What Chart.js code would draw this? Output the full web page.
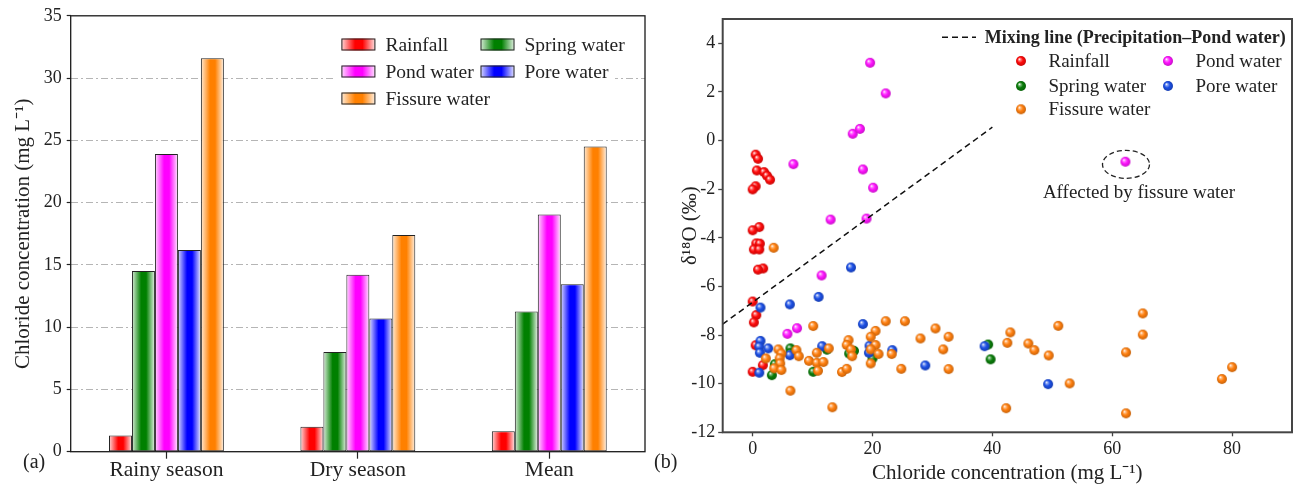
<!DOCTYPE html>
<html>
<head>
<meta charset="utf-8">
<script src="https://cdn.jsdelivr.net/npm/chart.js@4.4.1/dist/chart.umd.min.js"></script>
<style>
html, body { margin: 0; padding: 0; background: #fff; }
#wrap { position: relative; width: 1298px; height: 485px; }
#barChart { position: absolute; left: 0; top: 0; }
#isoChart { position: absolute; left: 648px; top: 0; }
</style>
</head>
<body>
<div id="wrap">
  <canvas id="barChart" width="648" height="485"></canvas>
  <canvas id="isoChart" width="650" height="485"></canvas>
</div>
<script>
var SERIF = "'Liberation Serif', 'Times New Roman', serif";

//PANEL (a) DATA - chloride, mg/L//
var seasons = ['Rainy season', 'Dry season', 'Mean'];
var rainfallCl = [1.3, 2.0, 1.65];
var springCl = [14.5, 8.0, 11.25];
var pondCl = [23.9, 14.2, 19.05];
var poreCl = [16.2, 10.7, 13.45];
var fissureCl = [31.6, 17.4, 24.5];
var clTicks = [0, 5, 10, 15, 20, 25, 30, 35];

//PANEL (b) DATA - [chloride mg/L, d18O permil]//
var rainfallPts = [[0.5,-0.58],[0.9,-0.75],[0.7,-1.23],[1.9,-1.30],[2.4,-1.45],[2.9,-1.61],[0.5,-1.88],[0.0,-2.01],
  [1.1,-3.56],[0.0,-3.69],[0.6,-4.23],[1.2,-4.24],[0.2,-4.48],[1.1,-4.48],[1.75,-5.26],[0.9,-5.31],
  [0.0,-6.62],[0.6,-7.18],[0.2,-7.48],[0.5,-8.42],[1.7,-9.24],[0.0,-9.51]];
var springPts = [[3.2,-9.65],[3.7,-9.2],[6.3,-8.55],[6.3,-8.75],[10.1,-9.51],[12.4,-8.6],[16.1,-8.76],[16.9,-8.65],
  [20.0,-8.96],[39.3,-8.39],[39.7,-9.0]];
var pondPts = [[19.6,3.2],[22.2,1.94],[16.7,0.28],[17.9,0.48],[6.8,-0.97],[18.4,-1.19],[20.1,-1.94],[13.0,-3.25],
  [19.0,-3.21],[62.2,-0.87],[11.5,-5.55],[5.8,-7.95],[7.4,-7.72]];
var porePts = [[16.4,-5.22],[11.0,-6.43],[6.2,-6.74],[1.3,-6.87],[18.4,-7.55],[1.3,-8.24],[1.1,-8.48],[2.6,-8.55],
  [1.2,-8.73],[11.6,-8.46],[6.2,-8.83],[19.5,-8.44],[19.4,-8.73],[23.3,-8.62],[28.8,-9.25],[38.7,-8.46],
  [1.1,-9.55],[49.3,-10.02]];
var fissurePts = [[3.5,-4.41],[10.1,-7.63],[22.2,-7.43],[25.4,-7.43],[20.5,-7.83],[19.7,-8.07],[28.0,-8.14],[30.5,-7.73],
  [32.7,-8.07],[31.8,-8.59],[32.7,-9.40],[43.0,-7.89],[42.5,-8.32],[46.0,-8.35],[47.0,-8.62],[42.3,-11.01],
  [13.3,-10.97],[6.3,-10.29],[4.3,-8.59],[4.8,-8.76],[4.5,-8.96],[2.2,-8.96],[7.3,-8.62],[7.7,-8.87],
  [4.6,-9.17],[3.6,-9.37],[4.8,-9.44],[10.7,-8.73],[9.4,-9.06],[10.7,-9.14],[11.8,-9.11],[10.9,-9.47],
  [12.7,-8.55],[16.0,-8.21],[15.7,-8.41],[16.4,-8.59],[16.6,-8.87],[14.9,-9.52],[15.7,-9.39],[20.5,-8.41],
  [19.7,-8.59],[21.0,-8.78],[19.7,-9.17],[23.2,-8.78],[24.8,-9.39],[65.1,-7.11],[65.1,-7.98],[51.0,-7.62],
  [49.4,-8.84],[62.3,-8.71],[80.0,-9.32],[78.3,-9.81],[52.9,-9.99],[62.3,-11.22]];
var mixingLine = [[-5, -7.55], [40, 0.55]];
var circledPt = [62.3, -0.98];
var xTickVals = [0, 20, 40, 60, 80];
var yTickVals = [-12, -10, -8, -6, -4, -2, 0, 2, 4];

var waterNames = ['Rainfall', 'Spring water', 'Pond water', 'Pore water', 'Fissure water'];
var barColors = ['#ff0000', '#008000', '#ff00ff', '#0000ff', '#ff8000'];
var dotColors = ['#ff0a0a', '#0a7d0a', '#ff14ff', '#1c4fe4', '#ff7f0e'];

function rgb(hex) {
  return [parseInt(hex.slice(1, 3), 16), parseInt(hex.slice(3, 5), 16), parseInt(hex.slice(5, 7), 16)];
}
// t>0 towards white, t<0 towards black
function shade(hex, t) {
  var c = rgb(hex);
  var out = c.map(function(v) { return Math.round(t > 0 ? v + (255 - v) * t : v * (1 + t)); });
  return 'rgb(' + out.join(',') + ')';
}
function barFill(ctx, x0, x1, color) {
  var g = ctx.createLinearGradient(x0, 0, x1, 0);
  g.addColorStop(0, shade(color, 0.85));
  g.addColorStop(0.4, color);
  g.addColorStop(0.62, color);
  g.addColorStop(1, shade(color, 0.9));
  return g;
}
// little shaded ball used as point style
function sphere(color) {
  var cv = document.createElement('canvas');
  cv.width = 12; cv.height = 12;
  var c = cv.getContext('2d');
  var g = c.createRadialGradient(4.3, 4.1, 0.2, 6, 6, 5.4);
  g.addColorStop(0, '#ffffff');
  g.addColorStop(0.2, shade(color, 0.45));
  g.addColorStop(0.5, color);
  g.addColorStop(1, shade(color, -0.25));
  c.fillStyle = g;
  c.beginPath(); c.arc(6, 6, 5, 0, Math.PI * 2); c.fill();
  return cv;
}
var balls = dotColors.map(sphere);

function toXY(arr) { return arr.map(function(p) { return {x: p[0], y: p[1]}; }); }

//BAR CHART (a)//
var barValues = [rainfallCl, springCl, pondCl, poreCl, fissureCl];

var barShade = {
  id: 'barShade',
  beforeDatasetsDraw: function(chart) {
    chart.data.datasets.forEach(function(ds, i) {
      chart.getDatasetMeta(i).data.forEach(function(bar) {
        bar.options.backgroundColor = barFill(chart.ctx, bar.x - bar.width / 2, bar.x + bar.width / 2, barColors[i]);
      });
    });
  },
  afterDraw: function(chart) {
    var c = chart.ctx, a = chart.chartArea;
    c.save();
    // legend with white box
    c.fillStyle = '#fff';
    c.fillRect(334, 30, 281, 82);
    var spots = [[341.4, 44.5], [480.5, 44.5], [341.4, 71.5], [480.5, 71.5], [341.4, 98.5]];
    c.font = '19.5px ' + SERIF;
    c.textBaseline = 'middle';
    spots.forEach(function(s, i) {
      c.fillStyle = barFill(c, s[0], s[0] + 34, barColors[i]);
      c.fillRect(s[0], s[1] - 6, 34, 12);
      c.strokeStyle = '#222'; c.lineWidth = 1;
      c.strokeRect(s[0] + 0.5, s[1] - 5.5, 33, 11);
      c.fillStyle = '#222';
      c.fillText(waterNames[i], s[0] + 44, s[1] + 1);
    });
    // frame
    c.strokeStyle = '#1a1a1a'; c.lineWidth = 1.3;
    c.strokeRect(a.left, a.top, a.right - a.left, a.bottom - a.top);
    c.font = '20px ' + SERIF;
    c.fillStyle = '#222';
    c.textBaseline = 'alphabetic';
    c.fillText('(a)', 23, 468);
    c.restore();
  }
};

var barChart = new Chart(document.getElementById('barChart'), {
  type: 'bar',
  data: {
    labels: seasons,
    datasets: barValues.map(function(vals, i) {
      return {
        label: waterNames[i],
        data: vals,
        backgroundColor: function(ctx) { return barColors[ctx.datasetIndex]; },
        borderColor: '#222',
        borderWidth: 1,
        borderSkipped: false,
        barPercentage: 1,
        categoryPercentage: 0.6
      };
    })
  },
  options: {
    responsive: false,
    animation: false,
    layout: { padding: { top: 15.7, right: 3, left: 0, bottom: 0 } },
    plugins: { legend: { display: false }, tooltip: { enabled: false } },
    scales: {
      x: {
        afterFit: function(s) { s.height = 33.3; },
        grid: { offset: false, drawOnChartArea: false, drawTicks: true, tickLength: 7, tickColor: '#222', tickWidth: 1.2 },
        border: { display: false },
        ticks: { font: { family: SERIF, size: 21.5, lineHeight: 1 }, color: '#222', padding: 1, maxRotation: 0 }
      },
      y: {
        min: 0, max: 35,
        afterBuildTicks: function(s) { s.ticks = clTicks.map(function(v) { return {value: v}; }); },
        afterFit: function(s) { s.width = 70.7; },
        grid: {
          color: function(ctx) { return (ctx.tick && (ctx.tick.value === 0 || ctx.tick.value === 35)) ? 'rgba(0,0,0,0)' : '#b5b5b5'; },
          lineWidth: 1, drawTicks: true, tickLength: 4, tickColor: '#222', tickWidth: 1.2
        },
        border: { display: false, dash: [7, 3, 2, 3] },
        ticks: { font: { family: SERIF, size: 18 }, color: '#222', padding: 5 },
        title: {
          display: true, text: 'Chloride concentration (mg L\u207B\u00B9)',
          font: { family: SERIF, size: 21, lineHeight: 1 }, color: '#222', padding: { top: 12.5, bottom: 0 }
        }
      }
    }
  },
  plugins: [barShade]
});

//SCATTER CHART (b)//
var isoDecor = {
  id: 'isoDecor',
  afterDraw: function(chart) {
    var c = chart.ctx, a = chart.chartArea;
    var xs = chart.scales.x, ys = chart.scales.y;
    c.save();
    // dashed ellipse round the odd pond sample
    var ex = xs.getPixelForValue(circledPt[0]), ey = ys.getPixelForValue(circledPt[1]);
    c.setLineDash([5, 3]);
    c.strokeStyle = '#222'; c.lineWidth = 1.3;
    c.beginPath(); c.ellipse(ex, ey, 23.5, 14, 0, 0, Math.PI * 2); c.stroke();
    c.setLineDash([]);
    c.font = '19px ' + SERIF;
    c.fillStyle = '#222';
    c.textAlign = 'center'; c.textBaseline = 'middle';
    c.fillText('Affected by fissure water', ex + 13, ey + 29);
    // legend
    c.textAlign = 'left';
    c.setLineDash([6, 4]);
    c.strokeStyle = '#111'; c.lineWidth = 1.5;
    c.beginPath(); c.moveTo(294, 37.3); c.lineTo(328, 37.3); c.stroke();
    c.setLineDash([]);
    c.font = 'bold 18px ' + SERIF;
    c.fillText('Mixing line (Precipitation\u2013Pond water)', 336.7, 38);
    c.font = '19px ' + SERIF;
    var spots = [[373, 61], [373, 86], [520, 61], [520, 86], [373, 109.3]];
    spots.forEach(function(s, i) {
      c.drawImage(balls[i], s[0] - 6, s[1] - 6);
      c.fillText(waterNames[i], s[0] + 27.5, s[1] + 1);
    });
    // frame
    c.strokeStyle = '#454545'; c.lineWidth = 2;
    c.strokeRect(a.left, a.top, a.right - a.left, a.bottom - a.top);
    c.font = '20px ' + SERIF;
    c.textBaseline = 'alphabetic';
    c.fillText('(b)', 6, 468);
    c.restore();
  }
};

function dotSet(i, pts) {
  return {
    label: waterNames[i],
    data: toXY(pts),
    pointStyle: balls[i],
    pointRadius: 5,
    showLine: false
  };
}

var isoChart = new Chart(document.getElementById('isoChart'), {
  type: 'scatter',
  data: {
    // first dataset ends up on top
    datasets: [
      {
        label: 'Mixing line (Precipitation\u2013Pond water)',
        data: toXY(mixingLine),
        showLine: true,
        pointRadius: 0,
        borderColor: '#111',
        borderWidth: 1.5,
        borderDash: [6, 4]
      },
      dotSet(4, fissurePts),
      dotSet(3, porePts),
      dotSet(2, pondPts),
      dotSet(1, springPts),
      dotSet(0, rainfallPts)
    ]
  },
  options: {
    responsive: false,
    animation: false,
    layout: { padding: { top: 19, right: 1.3, left: 0, bottom: 0 } },
    plugins: { legend: { display: false }, tooltip: { enabled: false } },
    scales: {
      x: {
        type: 'linear', min: -5, max: 90,
        afterBuildTicks: function(s) { s.ticks = xTickVals.map(function(v) { return {value: v}; }); },
        afterFit: function(s) { s.height = 52.7; },
        grid: { drawOnChartArea: false, drawTicks: true, tickLength: 4, tickColor: '#444', tickWidth: 1.3 },
        border: { display: false },
        ticks: { font: { family: SERIF, size: 18 }, color: '#222', padding: 2, maxRotation: 0 },
        title: {
          display: true, text: 'Chloride concentration (mg L\u207B\u00B9)',
          font: { family: SERIF, size: 21, lineHeight: 1 }, color: '#222', padding: { top: 0, bottom: 1 }
        }
      },
      y: {
        type: 'linear', min: -12, max: 5,
        afterBuildTicks: function(s) { s.ticks = yTickVals.map(function(v) { return {value: v}; }); },
        afterFit: function(s) { s.width = 74.7; },
        grid: { drawOnChartArea: false, drawTicks: true, tickLength: 4.5, tickColor: '#444', tickWidth: 1.3 },
        border: { display: false },
        ticks: { font: { family: SERIF, size: 18 }, color: '#222', padding: 3 },
        title: {
          display: true, text: '\u03B4\u00B9\u2078O (\u2030)',
          font: { family: SERIF, size: 21, lineHeight: 1 }, color: '#222', padding: { top: 31.5, bottom: 0 }
        }
      }
    }
  },
  plugins: [isoDecor]
});
</script>
</body>
</html>
